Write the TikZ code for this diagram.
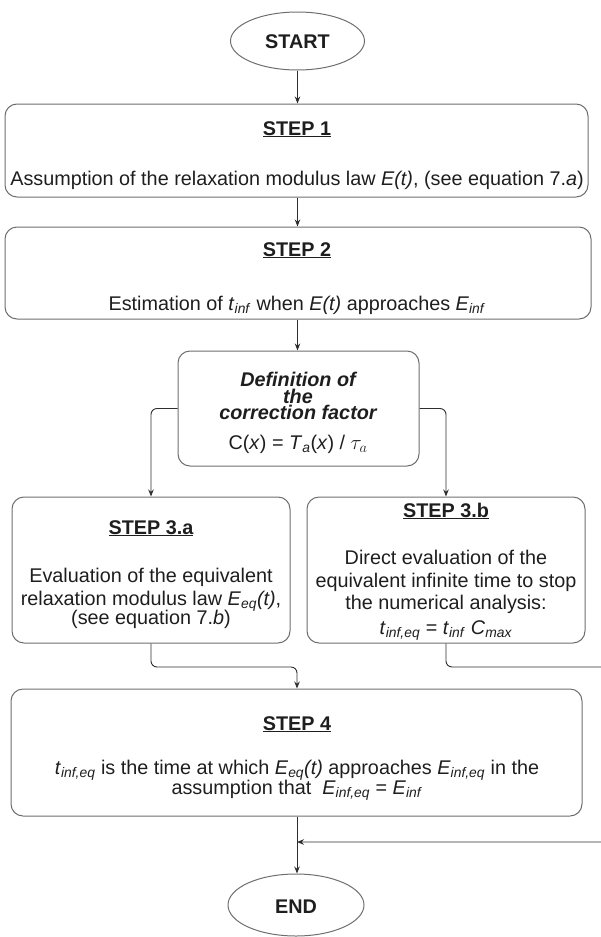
\documentclass[tikz,border=0pt]{standalone}
\usepackage{fontspec}
\setmainfont{Liberation Sans}
\usetikzlibrary{arrows.meta,shapes.geometric}
\definecolor{boxgray}{HTML}{6E6E6E}
\definecolor{linegray}{HTML}{2E2E2E}
\definecolor{txt}{HTML}{1E1E1E}
\begin{document}
\begin{tikzpicture}[x=1pt,y=-1pt,
  box/.style={draw=boxgray, line width=1pt, rounded corners=12pt, inner sep=0pt},
  term/.style={draw=boxgray, line width=1pt, ellipse, inner sep=0pt},
  lbl/.style={text=txt, font=\fontsize{19.8}{22}\selectfont, inner sep=0pt, anchor=base},
  ttl/.style={lbl, font=\fontsize{19.8}{22}\selectfont\bfseries},
  conn/.style={draw=linegray, line width=0.9pt, -{Stealth[length=7pt,width=5.5pt]}, rounded corners=6pt},
]
\useasboundingbox (0,0) rectangle (601,937);
\clip (0,0) rectangle (601,937);

% terminals
\node[term, minimum width=134pt, minimum height=58pt] (start) at (297.5,41) {};
\node[ttl] (startt) at (297.5,48) {START};
\node[term, minimum width=136pt, minimum height=62pt] (end) at (296,905) {};
\node[ttl] (endt) at (296,913) {END};

% boxes
\node[box, minimum width=583pt, minimum height=93pt] (s1) at (296.5,150.5) {};
\node[box, minimum width=586pt, minimum height=92pt] (s2) at (298,273) {};
\node[box, minimum width=241pt, minimum height=115pt] (def) at (298.5,408.5) {};
\node[box, minimum width=278pt, minimum height=146pt] (s3a) at (151,570) {};
\node[box, minimum width=278pt, minimum height=146pt] (s3b) at (446,570) {};
\node[box, minimum width=571pt, minimum height=127pt] (s4) at (296.5,752.5) {};

% texts
\node[ttl] (s1t) at (297,135) {\underline{STEP 1}};
\node[lbl] (s1b) at (297,185) {Assumption of the relaxation modulus law \textit{E(t)}, (see equation 7.\textit{a})};

\node[ttl] (s2t) at (297,256) {\underline{STEP 2}};
\node[lbl] (s2b) at (297,310) {Estimation of \textit{t}\textsubscript{\textit{inf}} when \textit{E(t)} approaches \textit{E}\textsubscript{\textit{inf}}};

\node[ttl, anchor=center, align=center, font=\fontsize{19.8}{16.5}\selectfont\bfseries\itshape] (dtitle) at (298,396) {Definition of\\the\\correction factor};
\node[lbl] (d4) at (298,449) {C(\textit{x}) = \textit{T}\textsubscript{\textit{a}}(\textit{x}) / $\tau_a$};

\node[ttl] (s3at) at (151,534) {\underline{STEP 3.a}};
\node[lbl] (s3a1) at (151,582) {Evaluation of the equivalent};
\node[lbl] (s3a2) at (151,605) {relaxation modulus law \textit{E}\textsubscript{\textit{eq}}\textit{(t)},};
\node[lbl] (s3a3) at (151,624) {(see equation 7.\textit{b})};

\node[ttl] (s3bt) at (446,517) {\underline{STEP 3.b}};
\node[lbl] (s3b1) at (446,564) {Direct evaluation of the};
\node[lbl] (s3b2) at (446,587) {equivalent infinite time to stop};
\node[lbl] (s3b3) at (446,609) {the numerical analysis:};
\node[lbl] (s3b4) at (446,634) {\textit{t}\textsubscript{\textit{inf,eq}} = \textit{t}\textsubscript{\textit{inf}} \textit{C}\textsubscript{\textit{max}}};

\node[ttl] (s4t) at (297,730) {\underline{STEP 4}};
\node[lbl] (s41) at (297,774) {\textit{t}\textsubscript{\textit{inf,eq}} is the time at which \textit{E}\textsubscript{\textit{eq}}\textit{(t)} approaches \textit{E}\textsubscript{\textit{inf,eq}} in the};
\node[lbl] (s42) at (297,794) {assumption that\ \ \textit{E}\textsubscript{\textit{inf,eq}} = \textit{E}\textsubscript{\textit{inf}}};

% connectors
\coordinate (ja) at (297,667);
\coordinate (far) at (630,667);
\coordinate (merge) at (297,842);

\draw[conn] (start.south) -- (start.south |- s1.north);
\draw[conn] (s1.south -| start.south) -- (start.south |- s2.north);
\draw[conn] (s2.south -| start.south) -- (start.south |- def.north);
\draw[conn] (def.west) -| (s3a.north);
\draw[conn] (def.east) -| (s3b.north);
\draw[conn] (s3a.south) -- (s3a.south |- ja) -- (ja) -- (ja |- s4.north);
\draw[conn] (s3b.south) -- (s3b.south |- far) -- (far) -- (far |- merge) -- (merge);
\draw[conn] (s4.south -| merge) -- (merge |- end.north);
\end{tikzpicture}
\end{document}
